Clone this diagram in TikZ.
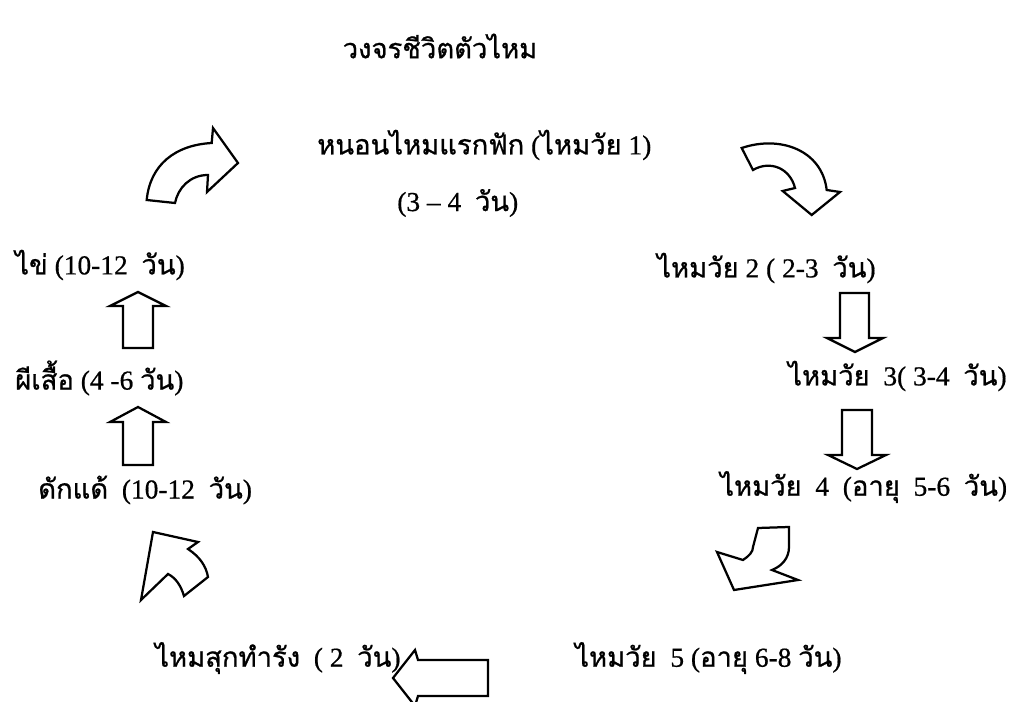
\documentclass[tikz,border=0pt]{standalone}
\usepackage{fontspec}
\setmainfont{Liberation Serif}[FakeBold=0.6]
\newfontfamily\thaifont[Script=Thai, FakeBold=0.8]{Loma}
\newcommand{\tw}[1]{{\thaifont #1}}
\usetikzlibrary{positioning}
\tikzstyle{stage}=[anchor=west, inner sep=0pt, font=\fontsize{19.5}{23}\selectfont]
\tikzstyle{block_arrow}=[draw=black, line width=1.6pt, line join=miter, fill=white]

\begin{document}
\begin{tikzpicture}[x=0.025cm, y=-0.025cm]
\useasboundingbox (0,0) rectangle (1015,702);
% headings and stages
\node[stage, anchor=center] (title) at (440,46) {\tw{วงจรชีวิตตัวไหม}};
\node[stage] (larva1) at (317,145) {\tw{หนอนไหมแรกฟัก} (\tw{ไหมวัย} 1)};
\node[stage] (larva1days) at (397,203) {(3 -- 4\ \ \tw{วัน})};
\node[stage] (larva2) at (657,268) {\tw{ไหมวัย}\ 2 ( 2-3\ \ \tw{วัน})};
\node[stage] (larva3) at (788,376) {\tw{ไหมวัย}\ \ 3( 3-4\ \ \tw{วัน})};
\node[stage] (larva4) at (720,487) {\tw{ไหมวัย}\ \ 4\ \ (\tw{อายุ}\ \ 5-6\ \ \tw{วัน})};
\node[stage] (larva5) at (575,658) {\tw{ไหมวัย}\ \ 5 (\tw{อายุ} 6-8 \tw{วัน})};
\node[stage] (spinning) at (155,658) {\tw{ไหมสุกทำรัง}\ \ ( 2\ \ \tw{วัน})};
\node[stage] (pupa) at (38,490) {\tw{ดักแด้}\ \ (10-12\ \ \tw{วัน})};
\node[stage] (moth) at (15,378) {\tw{ผีเสื้อ} (4 -6 \tw{วัน})};
\node[stage] (egg) at (15,265) {\tw{ไข่} (10-12\ \ \tw{วัน})};
% curved arrows
\draw[block_arrow] (146.7,200) .. controls (150,165) and (175,145) .. (211.7,143)
  -- (213,128) -- (238,163) -- (207,192) -- (208,175)
  .. controls (190,175) and (178,188) .. (175,203) -- cycle;
\draw[block_arrow] (741.7,148) .. controls (780,135) and (822,150) .. (826.7,190)
  -- (840,192) -- (811.7,215) -- (782.7,191) -- (795,188)
  .. controls (790,168) and (770,160) .. (753,170) -- cycle;
% straight arrows, right side
\draw[block_arrow] (840,293) -- (869,293) -- (869,338) -- (883,338) -- (855,352)
  -- (827,338) -- (840,338) -- cycle;
\draw[block_arrow] (842,410) -- (872,410) -- (872,455) -- (886,455) -- (857,469)
  -- (828,455) -- (842,455) -- cycle;
% bent arrows, bottom
\draw[block_arrow] (758,528) -- (789,527) -- (789,547)
  .. controls (789,558) and (782,566) .. (772,570) -- (798,580) -- (734,590)
  -- (717,552) -- (743,560) .. controls (749,556) and (753,552) .. (753,547) -- cycle;
\draw[block_arrow] (393,678) -- (415,650) -- (418,660) -- (488,660) -- (488,696)
  -- (418,696) -- (415,706) -- cycle;
\draw[block_arrow] (153,532) -- (198,542) -- (188,549)
  .. controls (200,557) and (206,566) .. (208,577) -- (184,596)
  .. controls (181,586) and (176,578) .. (168,574) -- (141,600) -- cycle;
% straight arrows, left side
\draw[block_arrow] (123,348) -- (153,348) -- (153,306) -- (166,306) -- (138,292)
  -- (110,306) -- (123,306) -- cycle;
\draw[block_arrow] (123,465) -- (153,465) -- (153,422) -- (166,422) -- (138,407)
  -- (110,422) -- (123,422) -- cycle;
\end{tikzpicture}
\end{document}
